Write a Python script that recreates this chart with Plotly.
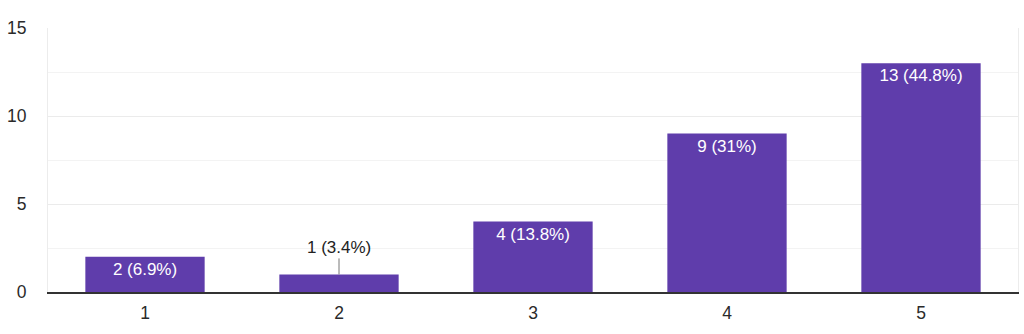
import plotly.graph_objects as go

categories = ["1", "2", "3", "4", "5"]
counts = [2, 1, 4, 9, 13]
percents = ["6.9%", "3.4%", "13.8%", "31%", "44.8%"]
y_ticks = [0, 5, 10, 15]

labels = [f"{c} ({p})" for c, p in zip(counts, percents)]
inside = [c >= 1.5 for c in counts]

bar_color = "#5f3dab"
font_family = "Arial, Liberation Sans, sans-serif"

fig = go.Figure()
fig.add_trace(go.Bar(
    x=categories,
    y=counts,
    marker=dict(color=bar_color, line=dict(width=0)),
    text=[l if ins else "" for l, ins in zip(labels, inside)],
    textposition=["inside" if ins else "none" for ins in inside],
    insidetextanchor="end",
    textangle=0,
    insidetextfont=dict(color="white", size=17, family=font_family),
    hoverinfo="skip",
))

for i, (cnt, lab, ins) in enumerate(zip(counts, labels, inside)):
    if not ins:
        fig.add_annotation(
            x=i, y=cnt, text=lab, xref="x", yref="y",
            showarrow=True, arrowhead=0, arrowwidth=1, arrowcolor="#777",
            ax=0, ay=-27, standoff=0,
            font=dict(color="#222", size=17, family=font_family),
        )

fig.update_layout(
    width=1024, height=334,
    margin=dict(l=48, r=6, t=28, b=42),
    paper_bgcolor="white", plot_bgcolor="white",
    bargap=0.385,
    showlegend=False,
    font=dict(family=font_family, color="#2a2a2a", size=17.5),
)
fig.update_xaxes(
    type="category",
    showgrid=False,
    showline=True, linecolor="#333", linewidth=1.5,
    ticks="", ticklabelstandoff=4,
    tickfont=dict(size=17.5, color="#2a2a2a"),
    mirror=False,
)
fig.update_yaxes(
    range=[0, 15],
    tickvals=y_ticks,
    showgrid=True, gridcolor="#ebebeb", gridwidth=1,
    minor=dict(dtick=2.5, tick0=0, showgrid=True, gridcolor="#f3f3f3", gridwidth=1),
    zeroline=False,
    showline=True, linecolor="#ececec", linewidth=1, mirror=True,
    ticks="", ticklabelstandoff=17,
    tickfont=dict(size=17.5, color="#2a2a2a"),
)

fig.write_html("out.html")
